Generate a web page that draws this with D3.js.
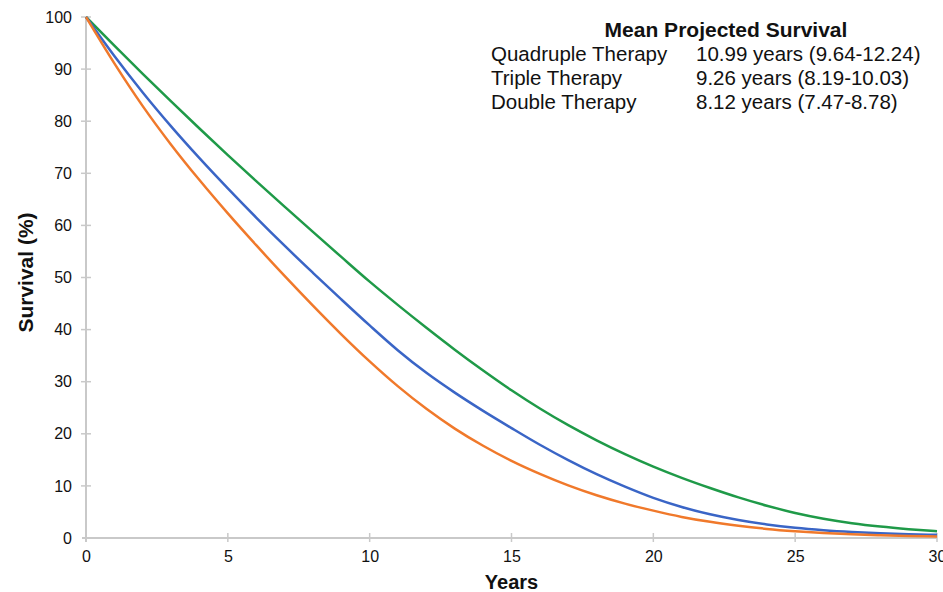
<!DOCTYPE html>
<html>
<head>
<meta charset="utf-8">
<style>
  body { margin: 0; background: #fff; }
  svg text { font-family: "Liberation Sans", Arial, Helvetica, sans-serif; fill: #111; }
</style>
</head>
<body>
<div id="chart"></div>
<script src="https://d3js.org/d3.v7.min.js"></script>
<script>
  // years along x
  const years = d3.range(0, 31);

  // survival (%), one value per year
  const quadruple = [100, 94.5, 89.1, 83.8, 78.6, 73.5, 68.5, 63.6, 58.75, 53.95, 49.2, 44.7, 40.35, 36.15, 32.15,
                     28.35, 24.85, 21.65, 18.75, 16.1, 13.7, 11.55, 9.6, 7.8, 6.2, 4.8, 3.7, 2.85, 2.2, 1.7, 1.3];
  const triple    = [100, 92.5, 85.5, 79.0, 72.9, 67.1, 61.5, 56.1, 50.9, 45.8, 40.8, 36.0, 31.7, 27.9, 24.4,
                     21.1, 17.9, 14.95, 12.25, 9.85, 7.7, 5.95, 4.55, 3.45, 2.6, 1.95, 1.48, 1.14, 0.9, 0.73, 0.6];
  const double    = [100, 91.1, 82.9, 75.5, 68.7, 62.3, 56.2, 50.3, 44.6, 39.1, 33.9, 29.1, 24.8, 21.0, 17.7,
                     14.8, 12.3, 10.1, 8.2, 6.6, 5.25, 4.05, 3.1, 2.35, 1.75, 1.3, 0.95, 0.7, 0.52, 0.39, 0.29];

  const xTicks = [0, 5, 10, 15, 20, 25, 30];
  const yTicks = [0, 10, 20, 30, 40, 50, 60, 70, 80, 90, 100];

  const legendTitle = "Mean Projected Survival";
  const legendNames = ["Quadruple Therapy", "Triple Therapy", "Double Therapy"];
  const legendValues = ["10.99 years (9.64-12.24)", "9.26 years (8.19-10.03)", "8.12 years (7.47-8.78)"];

  const W = 943, H = 592;
  const margin = {left: 86, right: 6, top: 17, bottom: 54};

  const svg = d3.select('#chart')
                .append('svg')
                .attr('width', W)
                .attr('height', H);

  const x = d3.scaleLinear().domain([0, 30]).range([margin.left, W - margin.right]);
  const y = d3.scaleLinear().domain([0, 100]).range([H - margin.bottom, margin.top]);

  // axes
  const axisColor = '#c9c9c9';
  const xAxis = svg.append('g')
     .attr('transform', `translate(0,${y(0)})`)
     .call(d3.axisBottom(x).tickValues(xTicks).tickSize(0).tickPadding(10));
  const yAxis = svg.append('g')
     .attr('transform', `translate(${x(0)},0)`)
     .call(d3.axisLeft(y).tickValues(yTicks).tickSize(0).tickPadding(14));

  [xAxis, yAxis].forEach(g => {
    g.select('.domain').remove();
    g.selectAll('text').style('font-size', '16px').attr('fill', '#111');
  });
  xAxis.selectAll('text').attr('dy', '0.9em');

  // axis lines
  svg.append('line')
     .attr('x1', x(0) - 4).attr('x2', x(30))
     .attr('y1', y(0)).attr('y2', y(0))
     .attr('stroke', axisColor).attr('stroke-width', 2);
  svg.append('line')
     .attr('x1', x(0)).attr('x2', x(0))
     .attr('y1', y(0) + 4).attr('y2', y(100))
     .attr('stroke', axisColor).attr('stroke-width', 2);

  // crossing ticks
  svg.selectAll('.xt').data(xTicks.slice(1)).enter().append('line')
     .attr('x1', d => x(d)).attr('x2', d => x(d))
     .attr('y1', y(0) - 5).attr('y2', y(0) + 4)
     .attr('stroke', axisColor).attr('stroke-width', 1.5);
  svg.selectAll('.yt').data(yTicks.slice(1)).enter().append('line')
     .attr('x1', x(0) - 5).attr('x2', x(0) + 5)
     .attr('y1', d => y(d)).attr('y2', d => y(d))
     .attr('stroke', axisColor).attr('stroke-width', 1.5);

  // axis titles
  svg.append('text')
     .attr('x', x(15)).attr('y', 589)
     .attr('text-anchor', 'middle')
     .style('font-size', '20px').style('font-weight', 'bold')
     .text('Years');
  svg.append('text')
     .attr('transform', `translate(33,${y(50) - 5}) rotate(-90)`)
     .attr('text-anchor', 'middle')
     .style('font-size', '21px').style('font-weight', 'bold')
     .text('Survival (%)');

  // curves
  const series = [
    {values: quadruple, color: '#1f9a48'},
    {values: triple, color: '#3a65c6'},
    {values: double, color: '#f0792b'}
  ];
  const line = d3.line()
                 .x((d, i) => x(years[i]))
                 .y(d => y(d))
                 .curve(d3.curveMonotoneX);
  svg.selectAll('.curve').data(series).enter().append('path')
     .attr('d', d => line(d.values))
     .attr('fill', 'none')
     .attr('stroke', d => d.color)
     .attr('stroke-width', 2.5);

  // legend text block
  svg.append('text')
     .attr('x', 726).attr('y', 37)
     .attr('text-anchor', 'middle')
     .style('font-size', '21px').style('font-weight', 'bold')
     .text(legendTitle);
  legendNames.forEach((name, i) => {
    svg.append('text')
       .attr('x', 491).attr('y', 61 + i * 24)
       .style('font-size', '20.5px')
       .text(name);
    svg.append('text')
       .attr('x', 696).attr('y', 61 + i * 24)
       .style('font-size', '20.5px')
       .text(legendValues[i]);
  });
</script>
</body>
</html>
